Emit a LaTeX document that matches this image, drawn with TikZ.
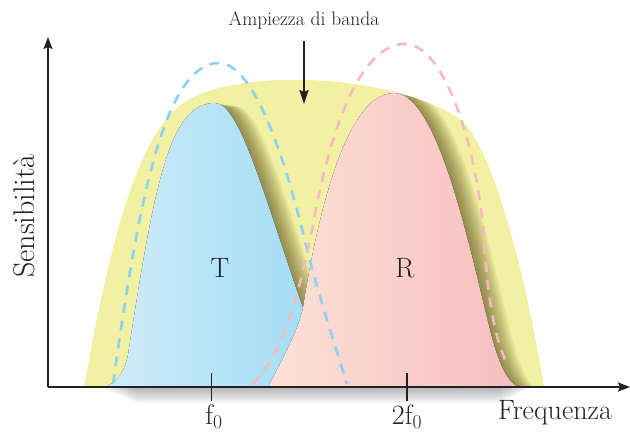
\documentclass[tikz,border=0pt]{standalone}
\usepackage{fontspec}
\usetikzlibrary{arrows.meta}
\definecolor{yel}{RGB}{242,240,163}
\definecolor{blueL}{RGB}{208,236,249}
\definecolor{blueR}{RGB}{160,220,245}
\definecolor{pinkL}{RGB}{252,226,214}
\definecolor{pinkR}{RGB}{247,190,192}
\definecolor{bdash}{RGB}{140,210,240}
\definecolor{pdash}{RGB}{245,185,192}
\definecolor{shadowc}{RGB}{80,70,20}
\definecolor{ink}{RGB}{34,34,34}
\def\YelEnv{(84,387) .. controls (110,240) and (138,135) .. (183,103) .. controls (230,70) and (380,70) .. (457,117) .. controls (490,137) and (525,270) .. (544,387) -- cycle}
\def\BlueBump{(104,387) .. controls (112,385) and (123,378) .. (128,355) .. controls (155,180) and (170,103) .. (215,103) .. controls (240,103) and (265,200) .. (303,308) .. controls (310,330) and (316,360) .. (320,387) -- cycle}
\def\PinkBump{(268,387) .. controls (285,355) and (298,330) .. (303,308) .. controls (312,250) and (340,93) .. (394,93) .. controls (438,93) and (470,250) .. (490,330) .. controls (497,358) and (505,380) .. (518,387) -- cycle}
\tikzset{
  axisline/.style={draw=ink, line width=1.8pt},
  tickline/.style={draw=ink, line width=1.8pt},
  dashblue/.style={draw=bdash, line width=2.6pt, dash pattern=on 10pt off 8pt},
  dashpink/.style={draw=pdash, line width=2.6pt, dash pattern=on 10pt off 8pt},
  lbl/.style={text=ink, inner sep=0pt, font=\fontsize{28}{32}\selectfont},
  sidelbl/.style={text=ink, inner sep=0pt, font=\fontsize{30}{34}\selectfont},
  smalllbl/.style={text=ink, inner sep=0pt, font=\fontsize{19.5}{23}\selectfont},
}
\begin{document}
\begin{tikzpicture}[x=1pt,y=-1pt]
\useasboundingbox (0,0) rectangle (630,434);
% yellow envelope
\fill[yel] \YelEnv;
% shadows to the right of bumps
\begin{scope}
  \clip \YelEnv;
  \foreach \i in {1,...,24}{
    \fill[shadowc, opacity=0.03, xshift={\i*0.9pt}, yshift={-\i*0.15pt}] \BlueBump;
    \fill[shadowc, opacity=0.03, xshift={\i*0.9pt}, yshift={-\i*0.15pt}] \PinkBump;
  }
\end{scope}
% shadow under the axis
\foreach \i in {1,...,10}{
  \fill[black, opacity=0.032, rounded corners=3pt] ({100+\i*3.5},386) rectangle ({532-\i*3},{388+\i*1.5});
}
% bumps
\fill[left color=blueL, right color=blueR] \BlueBump;
\fill[left color=pinkL, right color=pinkR] \PinkBump;
% dashed curves
\draw[dashblue] (113,384) .. controls (135,230) and (160,63) .. (219,63) .. controls (250,63) and (280,140) .. (303,233) .. controls (315,285) and (335,345) .. (347,384);
\draw[dashpink] (253,384) .. controls (285,350) and (300,290) .. (313,225) .. controls (330,130) and (360,44) .. (405,44) .. controls (445,44) and (478,150) .. (484,240) .. controls (488,300) and (495,340) .. (508,366);
% axes
\coordinate (O) at (48,387);
\coordinate (xend) at (630,387);
\coordinate (ytop) at (48,37);
\draw[axisline, -{Stealth[length=12pt,width=9pt,inset=2pt]}] (O) -- (xend);
\draw[axisline, -{Stealth[length=12pt,width=9pt,inset=2pt]}] (O) -- (ytop);
% ticks
\coordinate (t1a) at (211.5,373); \coordinate (t1b) at (211.5,401);
\coordinate (t2a) at (407,373); \coordinate (t2b) at (407,401);
\draw[tickline] (t1a) -- (t1b);
\draw[tickline] (t2a) -- (t2b);
% labels
\node[lbl] (f0) at (214,417) {f\textsubscript{0}};
\node[lbl] (f2) at (407,417) {2f\textsubscript{0}};
\node[lbl] (freq) at (555,413) {Frequenza};
\node[sidelbl, rotate=90] (sens) at (24,216) {Sensibilità};
\node[lbl] (T) at (220,268) {T};
\node[lbl] (R) at (405,268) {R};
\node[smalllbl] (amp) at (304,21) {Ampiezza di banda};
\coordinate (ampTip) at (304,104);
\draw[draw=ink, line width=1.6pt, -{Stealth[length=14pt,width=9pt,inset=2pt]}] (304,41) -- (ampTip);
\end{tikzpicture}
\end{document}
